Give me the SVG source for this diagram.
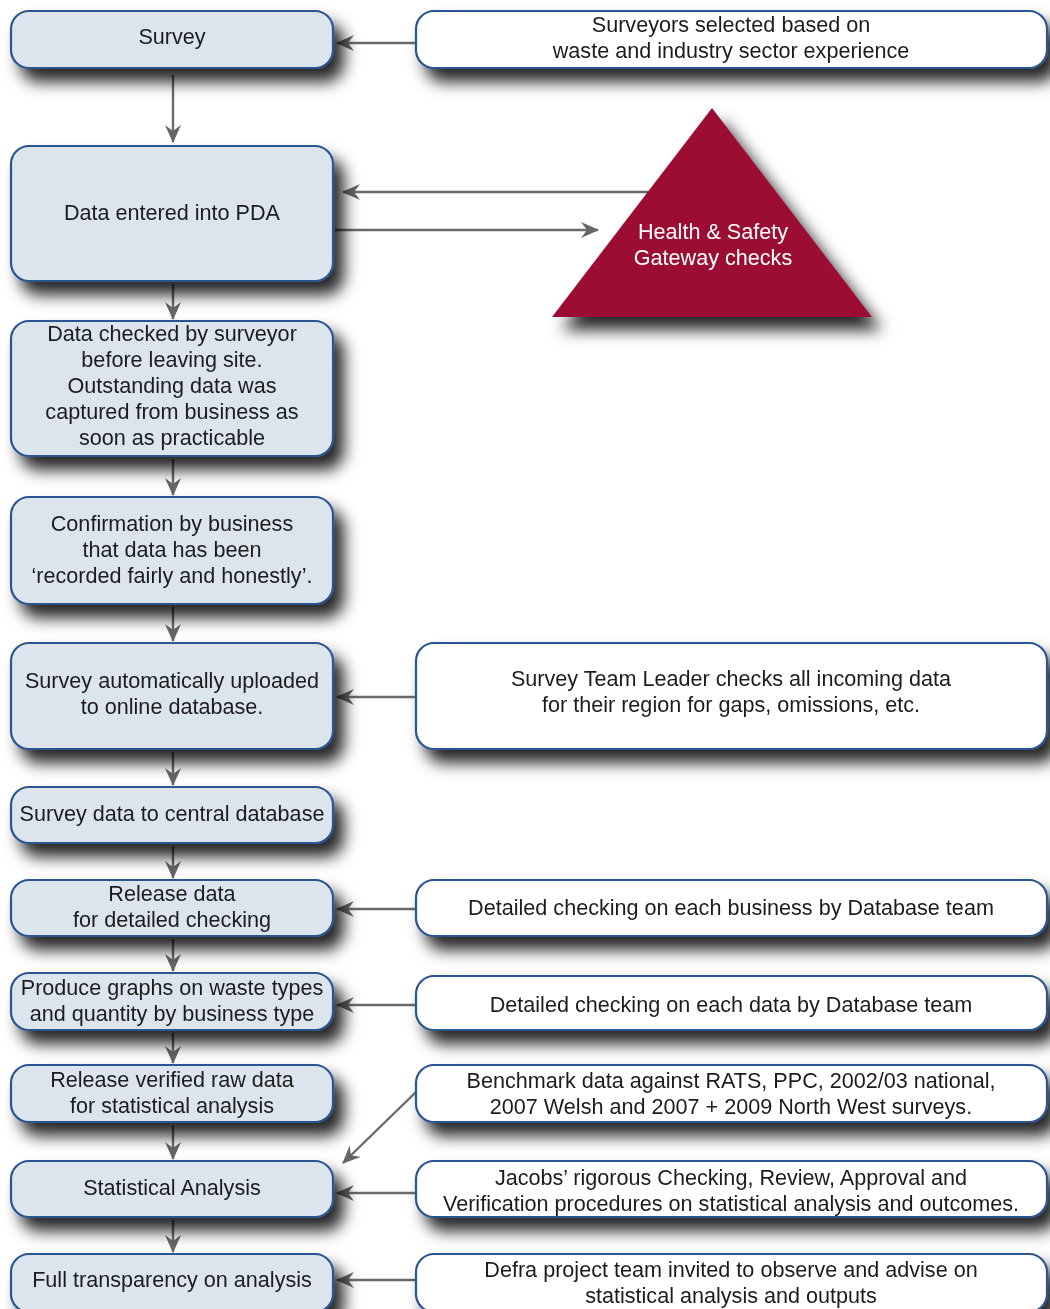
<svg xmlns="http://www.w3.org/2000/svg" width="1050" height="1309" viewBox="0 0 1050 1309">
<style>
.n{fill:#dce4ee;stroke:#2b5591;stroke-width:2.2}
.r{fill:#ffffff;stroke:#2b5591;stroke-width:2.2}
.t{font-family:"Liberation Sans",Arial,sans-serif;font-size:21.6px;fill:#1c1c1c;text-anchor:middle}
.w{font-family:"Liberation Sans",Arial,sans-serif;font-size:21.6px;fill:#ffffff;text-anchor:middle}
.c{stroke:#6a6a6a;stroke-width:2.4;fill:none;marker-end:url(#ah)}
</style>
<defs>
<filter id="sh" x="-20%" y="-40%" width="150%" height="220%">
<feDropShadow dx="10" dy="13" stdDeviation="8" flood-color="#000" flood-opacity="0.85"/>
</filter>
<marker id="ah" viewBox="0 0 18 16" refX="17" refY="8" markerWidth="18" markerHeight="16" markerUnits="userSpaceOnUse" orient="auto">
<path d="M0,0 L18,8 L0,16 L6,8 z" fill="#666666"/>
</marker>
</defs>
<rect width="1050" height="1309" fill="#ffffff"/>
<g id="connectors">
<line class="c" x1="173" y1="75" x2="173" y2="142"/>
<line class="c" x1="173" y1="284" x2="173" y2="319"/>
<line class="c" x1="173" y1="459" x2="173" y2="495"/>
<line class="c" x1="173" y1="607" x2="173" y2="641"/>
<line class="c" x1="173" y1="752" x2="173" y2="785"/>
<line class="c" x1="173" y1="846" x2="173" y2="878"/>
<line class="c" x1="173" y1="939" x2="173" y2="971"/>
<line class="c" x1="173" y1="1033" x2="173" y2="1063"/>
<line class="c" x1="173" y1="1125" x2="173" y2="1159"/>
<line class="c" x1="173" y1="1220" x2="173" y2="1252"/>
<line class="c" x1="416" y1="43" x2="337" y2="43"/>
<line class="c" x1="648" y1="192" x2="343" y2="192"/>
<line class="c" x1="335" y1="230" x2="598" y2="230"/>
<line class="c" x1="416" y1="697" x2="337" y2="697"/>
<line class="c" x1="416" y1="909" x2="337" y2="909"/>
<line class="c" x1="416" y1="1005" x2="337" y2="1005"/>
<line class="c" x1="416" y1="1092" x2="343" y2="1163"/>
<line class="c" x1="416" y1="1193" x2="337" y2="1193"/>
<line class="c" x1="416" y1="1280" x2="337" y2="1280"/>
</g>
<g id="n1" filter="url(#sh)"><rect class="n" x="11" y="11" width="322" height="57" rx="18"/><text class="t" x="172" y="44">Survey</text></g>
<g id="n2" filter="url(#sh)"><rect class="n" x="11" y="146" width="322" height="135" rx="18"/><text class="t" x="172" y="220">Data entered into PDA</text></g>
<g id="n3" filter="url(#sh)"><rect class="n" x="11" y="321" width="322" height="135" rx="18"/><text class="t" x="172" y="341">Data checked by surveyor</text><text class="t" x="172" y="367">before leaving site.</text><text class="t" x="172" y="393">Outstanding data was</text><text class="t" x="172" y="419">captured from business as</text><text class="t" x="172" y="445">soon as practicable</text></g>
<g id="n4" filter="url(#sh)"><rect class="n" x="11" y="497" width="322" height="107" rx="18"/><text class="t" x="172" y="531">Confirmation by business</text><text class="t" x="172" y="557">that data has been</text><text class="t" x="172" y="583">‘recorded fairly and honestly’.</text></g>
<g id="n5" filter="url(#sh)"><rect class="n" x="11" y="643" width="322" height="106" rx="18"/><text class="t" x="172" y="688">Survey automatically uploaded</text><text class="t" x="172" y="714">to online database.</text></g>
<g id="n6" filter="url(#sh)"><rect class="n" x="11" y="787" width="322" height="56" rx="18"/><text class="t" x="172" y="821">Survey data to central database</text></g>
<g id="n7" filter="url(#sh)"><rect class="n" x="11" y="880" width="322" height="56" rx="18"/><text class="t" x="172" y="901">Release data</text><text class="t" x="172" y="927">for detailed checking</text></g>
<g id="n8" filter="url(#sh)"><rect class="n" x="11" y="973" width="322" height="57" rx="18"/><text class="t" x="172" y="995">Produce graphs on waste types</text><text class="t" x="172" y="1021">and quantity by business type</text></g>
<g id="n9" filter="url(#sh)"><rect class="n" x="11" y="1065" width="322" height="57" rx="18"/><text class="t" x="172" y="1087">Release verified raw data</text><text class="t" x="172" y="1113">for statistical analysis</text></g>
<g id="n10" filter="url(#sh)"><rect class="n" x="11" y="1161" width="322" height="56" rx="18"/><text class="t" x="172" y="1195">Statistical Analysis</text></g>
<g id="n11" filter="url(#sh)"><rect class="n" x="11" y="1254" width="322" height="58" rx="18"/><text class="t" x="172" y="1287">Full transparency on analysis</text></g>
<g id="hs" filter="url(#sh)"><polygon points="712,108 872,317 552,317" fill="#9b1131"/><text class="w" x="713" y="239">Health &amp; Safety</text><text class="w" x="713" y="265">Gateway checks</text></g>
<g id="r1" filter="url(#sh)"><rect class="r" x="416" y="11" width="631" height="57" rx="18"/><text class="t" x="731" y="32">Surveyors selected based on</text><text class="t" x="731" y="58">waste and industry sector experience</text></g>
<g id="r2" filter="url(#sh)"><rect class="r" x="416" y="643" width="631" height="106" rx="18"/><text class="t" x="731" y="686">Survey Team Leader checks all incoming data</text><text class="t" x="731" y="712">for their region for gaps, omissions, etc.</text></g>
<g id="r3" filter="url(#sh)"><rect class="r" x="416" y="880" width="631" height="56" rx="18"/><text class="t" x="731" y="915">Detailed checking on each business by Database team</text></g>
<g id="r4" filter="url(#sh)"><rect class="r" x="416" y="976" width="631" height="54" rx="18"/><text class="t" x="731" y="1012">Detailed checking on each data by Database team</text></g>
<g id="r5" filter="url(#sh)"><rect class="r" x="416" y="1065" width="631" height="57" rx="18"/><text class="t" x="731" y="1088">Benchmark data against RATS, PPC, 2002/03 national,</text><text class="t" x="731" y="1114">2007 Welsh and 2007 + 2009 North West surveys.</text></g>
<g id="r6" filter="url(#sh)"><rect class="r" x="416" y="1161" width="631" height="56" rx="18"/><text class="t" x="731" y="1185">Jacobs’ rigorous Checking, Review, Approval and</text><text class="t" x="731" y="1211">Verification procedures on statistical analysis and outcomes.</text></g>
<g id="r7" filter="url(#sh)"><rect class="r" x="416" y="1254" width="631" height="58" rx="18"/><text class="t" x="731" y="1277">Defra project team invited to observe and advise on</text><text class="t" x="731" y="1303">statistical analysis and outputs</text></g>
</svg>
